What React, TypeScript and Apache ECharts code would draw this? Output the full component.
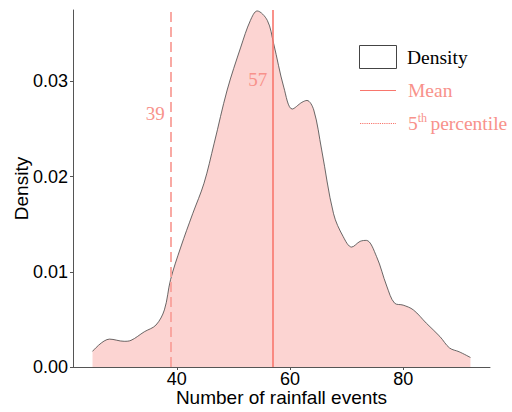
import React, { useEffect, useRef } from "react";
import * as echarts from "echarts";

const rainfallEvents = [25.1, 28.1, 30.7, 31.9, 34.25, 36.3, 37.8, 38.9, 40.7, 42.8, 44.8, 46.6, 48.9, 51.3, 53.0, 54.2, 56.0, 57.1, 58.9, 60.4, 62.1, 63.0, 64.2, 65.6, 67.7, 69.4, 70.9, 72.4, 73.5, 75.3, 77.1, 78.5, 80.0, 81.8, 84.1, 86.5, 88.2, 89.9, 91.9];
const densityValues = [0.00164, 0.00293, 0.0027, 0.0028, 0.0037, 0.0044, 0.006, 0.0092, 0.0126, 0.0161, 0.0193, 0.0235, 0.0291, 0.0336, 0.0364, 0.0374, 0.0364, 0.034, 0.0294, 0.0271, 0.0278, 0.028, 0.027, 0.0228, 0.0161, 0.0137, 0.0126, 0.0132, 0.0133, 0.0116, 0.0085, 0.0067, 0.0065, 0.006, 0.0046, 0.0032, 0.002, 0.0016, 0.001];
const meanValue = 57;
const percentile5Value = 39;
const xTicks = [40, 60, 80];
const yTicks = [0, 0.01, 0.02, 0.03];
const legendLabels = ["Density", "Mean", "percentile"];

const PINK = "#F8766D";
const PINK_LIGHT = "#F9A19B";
const TEXT_PINK = "#F8928B";
const FILL = "#FCD4D2";

export default function App() {
  const ref = useRef<HTMLDivElement>(null);
  useEffect(() => {
    if (!ref.current) return;
    const chart = echarts.init(ref.current, undefined, { renderer: "svg" });
    const data = rainfallEvents.map((x, i) => [x, densityValues[i]]);
    chart.setOption({
      animation: false,
      backgroundColor: "#ffffff",
      grid: { left: 73, top: 10, right: 22, bottom: 45, containLabel: false, outerBoundsMode: "none" },
      xAxis: {
        type: "value",
        min: 21.65,
        max: 95.35,
        splitLine: { show: false },
        axisLine: { lineStyle: { color: "#555555", width: 1 } },
        axisTick: { show: true, length: 3, customValues: xTicks, lineStyle: { color: "#555555" } },
        axisLabel: {
          customValues: xTicks,
          color: "#000000",
          fontFamily: "Liberation Sans",
          fontSize: 18,
          lineHeight: 14,
          margin: 5,
        },
        name: "Number of rainfall events",
        nameLocation: "middle",
        nameGap: 22.5,
        nameMoveOverlap: false,
        nameTextStyle: { color: "#000000", fontFamily: "Liberation Sans", fontSize: 19, lineHeight: 16 },
      },
      yAxis: {
        type: "value",
        min: 0,
        max: 0.0375,
        splitLine: { show: false },
        axisLine: { show: true, lineStyle: { color: "#555555", width: 1 } },
        axisTick: { show: true, length: 3, customValues: yTicks, lineStyle: { color: "#555555" } },
        axisLabel: {
          customValues: yTicks,
          color: "#000000",
          fontFamily: "Liberation Sans",
          fontSize: 18,
          margin: 5,
          formatter: (v: number) => v.toFixed(2),
        },
        name: "Density",
        nameLocation: "middle",
        nameGap: 42,
        nameMoveOverlap: false,
        nameTextStyle: { color: "#000000", fontFamily: "Liberation Sans", fontSize: 19 },
      },
      series: [
        {
          type: "line",
          data,
          smooth: 0.35,
          symbol: "none",
          lineStyle: { color: "#444444", width: 0.8 },
          areaStyle: { color: FILL, opacity: 1 },
          z: 2,
        },
        {
          type: "line",
          data: [],
          z: 3,
          markLine: {
            silent: true,
            symbol: ["none", "none"],
            label: { show: false },
            data: [
              { xAxis: meanValue, lineStyle: { color: PINK, width: 1.6, type: "solid" } },
              { xAxis: percentile5Value, lineStyle: { color: PINK_LIGHT, width: 1.8, type: [10, 5] } },
            ],
          },
          markPoint: {
            symbol: "circle",
            symbolSize: 0,
            label: {
              show: true,
              color: TEXT_PINK,
              fontFamily: "Liberation Serif",
              fontSize: 19,
              formatter: (p: any) => p.name,
            },
            data: [
              { name: String(meanValue), coord: [meanValue - 2.7, 0.0302] },
              { name: String(percentile5Value), coord: [percentile5Value - 2.8, 0.0266] },
            ],
          },
        },
      ],
      graphic: [
        { type: "rect", shape: { x: 359.5, y: 45.5, width: 37, height: 23 }, style: { fill: "#ffffff", stroke: "#444444", lineWidth: 1 } },
        { type: "text", x: 407, y: 57, style: { text: legendLabels[0], fill: "#000000", font: "19.5px 'Liberation Serif'", verticalAlign: "middle" } },
        { type: "line", shape: { x1: 360, y1: 90.5, x2: 396, y2: 90.5 }, style: { stroke: PINK, lineWidth: 1 } },
        { type: "text", x: 408, y: 90, style: { text: legendLabels[1], fill: TEXT_PINK, font: "19.5px 'Liberation Serif'", verticalAlign: "middle" } },
        { type: "line", shape: { x1: 360, y1: 123.5, x2: 396, y2: 123.5 }, style: { stroke: PINK, lineWidth: 1.2, lineDash: [1.2, 1] } },
        {
          type: "text",
          x: 408,
          y: 123,
          style: {
            text: "{n|5}{s|th} {t|" + legendLabels[2] + "}",
            verticalAlign: "middle",
            rich: {
              n: { fill: TEXT_PINK, fontFamily: "Liberation Serif", fontSize: 19.5 },
              s: { fill: TEXT_PINK, fontFamily: "Liberation Serif", fontSize: 12, verticalAlign: "top", padding: [0, 0, 10, 0] },
              t: { fill: TEXT_PINK, fontFamily: "Liberation Serif", fontSize: 19.5 },
            },
          },
        },
      ],
    });
    return () => chart.dispose();
  }, []);
  return <div ref={ref} style={{ position: "absolute", left: 0, top: 0, width: 512, height: 412 }} />;
}
